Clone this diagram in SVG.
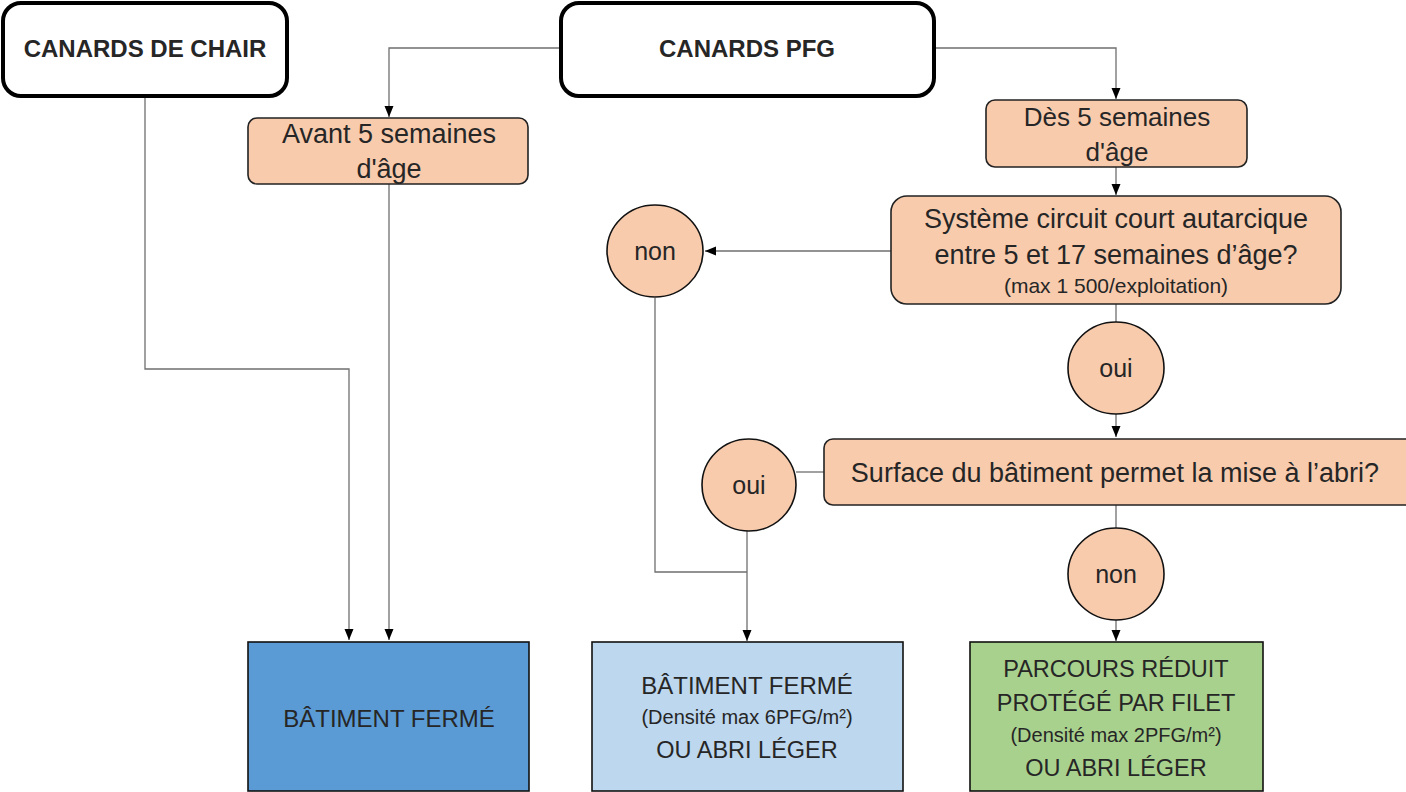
<svg xmlns="http://www.w3.org/2000/svg" width="1406" height="792" viewBox="0 0 1406 792">
<style>
text{font-family:"Liberation Sans",Arial,sans-serif;fill:#262626;text-anchor:middle}
.head{fill:#fff;stroke:#000;stroke-width:4}
.cond{fill:#F8CBAD;stroke:#222;stroke-width:1.6}
.ell{fill:#F8CBAD;stroke:#111;stroke-width:1.6}
.res{stroke:#111;stroke-width:1.6}
.b{font-weight:bold;font-size:24px}
.m{font-size:27px}
.s{font-size:21px}
.e{font-size:25px}
.u{font-size:23.5px}
.d{font-size:20px}
.ln{fill:none;stroke:#6f6f6f;stroke-width:1.3}
</style>
<defs>
<marker id="ar" markerUnits="userSpaceOnUse" markerWidth="12" markerHeight="12" viewBox="0 0 12 12" refX="11" refY="6" orient="auto">
<path d="M0,1.5 L11,6 L0,10.5 Z" fill="#000"/>
</marker>
</defs>
<g id="connectors">
<path class="ln" d="M145,97 V369 H349 V640" marker-end="url(#ar)"/>
<path class="ln" d="M560,48 H389 V117" marker-end="url(#ar)"/>
<path class="ln" d="M389,184 V640" marker-end="url(#ar)"/>
<path class="ln" d="M934,48 H1116 V99" marker-end="url(#ar)"/>
<path class="ln" d="M1116,167 V195" marker-end="url(#ar)"/>
<path class="ln" d="M891,251 H705" marker-end="url(#ar)"/>
<path class="ln" d="M655,298 V572 H747"/>
<path class="ln" d="M1116,304 V322"/>
<path class="ln" d="M1116,414 V437" marker-end="url(#ar)"/>
<path class="ln" d="M824,472 H796"/>
<path class="ln" d="M747,531 V641" marker-end="url(#ar)"/>
<path class="ln" d="M1116,505 V528"/>
<path class="ln" d="M1116,620 V641" marker-end="url(#ar)"/>
</g>
<g id="canards-chair">
<rect class="head" x="3" y="3" width="284" height="93" rx="18"/>
<text class="b" x="145" y="57">CANARDS DE CHAIR</text>
</g>
<g id="canards-pfg">
<rect class="head" x="561" y="3" width="373" height="93" rx="18"/>
<text class="b" x="747" y="57">CANARDS PFG</text>
</g>
<g id="avant">
<rect class="cond" x="248" y="118" width="280" height="66" rx="9"/>
<text class="m" x="389" y="143">Avant 5 semaines</text>
<text class="m" x="389" y="178">d'âge</text>
</g>
<g id="des">
<rect class="cond" x="986" y="100" width="261" height="67" rx="9"/>
<text class="m" x="1117" y="126" style="font-size:26px">Dès 5 semaines</text>
<text class="m" x="1117" y="161" style="font-size:26px">d'âge</text>
</g>
<g id="systeme">
<rect class="cond" x="891" y="196" width="450" height="108" rx="16"/>
<text class="m" x="1116" y="228">Système circuit court autarcique</text>
<text class="m" x="1116" y="264">entre 5 et 17 semaines d’âge?</text>
<text class="s" x="1116" y="293">(max 1 500/exploitation)</text>
</g>
<g id="non1">
<ellipse class="ell" cx="655" cy="251" rx="48" ry="46"/>
<text class="e" x="655" y="260">non</text>
</g>
<g id="oui1">
<ellipse class="ell" cx="1116" cy="368" rx="48" ry="46"/>
<text class="e" x="1116" y="377">oui</text>
</g>
<g id="surface">
<rect class="cond" x="824" y="439" width="590" height="66" rx="9"/>
<text class="m" x="1115" y="482">Surface du bâtiment permet la mise à l’abri?</text>
</g>
<g id="oui2">
<ellipse class="ell" cx="749" cy="485" rx="47" ry="46"/>
<text class="e" x="749" y="494">oui</text>
</g>
<g id="non2">
<ellipse class="ell" cx="1116" cy="574" rx="48" ry="46"/>
<text class="e" x="1116" y="583">non</text>
</g>
<g id="batiment-ferme">
<rect class="res" x="248" y="642" width="281" height="149" fill="#5B9BD5"/>
<text class="u" x="389" y="727" style="font-size:24px">BÂTIMENT FERMÉ</text>
</g>
<g id="batiment-abri">
<rect class="res" x="592" y="642" width="311" height="149" fill="#BDD7EE"/>
<text class="u" x="747" y="694" style="font-size:24px">BÂTIMENT FERMÉ</text>
<text class="d" x="747" y="724">(Densité max 6PFG/m²)</text>
<text class="u" x="747" y="758">OU ABRI LÉGER</text>
</g>
<g id="parcours">
<rect class="res" x="970" y="642" width="293" height="149" fill="#A9D18E"/>
<text class="u" x="1116" y="677">PARCOURS RÉDUIT</text>
<text class="u" x="1116" y="711">PROTÉGÉ PAR FILET</text>
<text class="d" x="1116" y="742">(Densité max 2PFG/m²)</text>
<text class="u" x="1116" y="776">OU ABRI LÉGER</text>
</g>
</svg>
